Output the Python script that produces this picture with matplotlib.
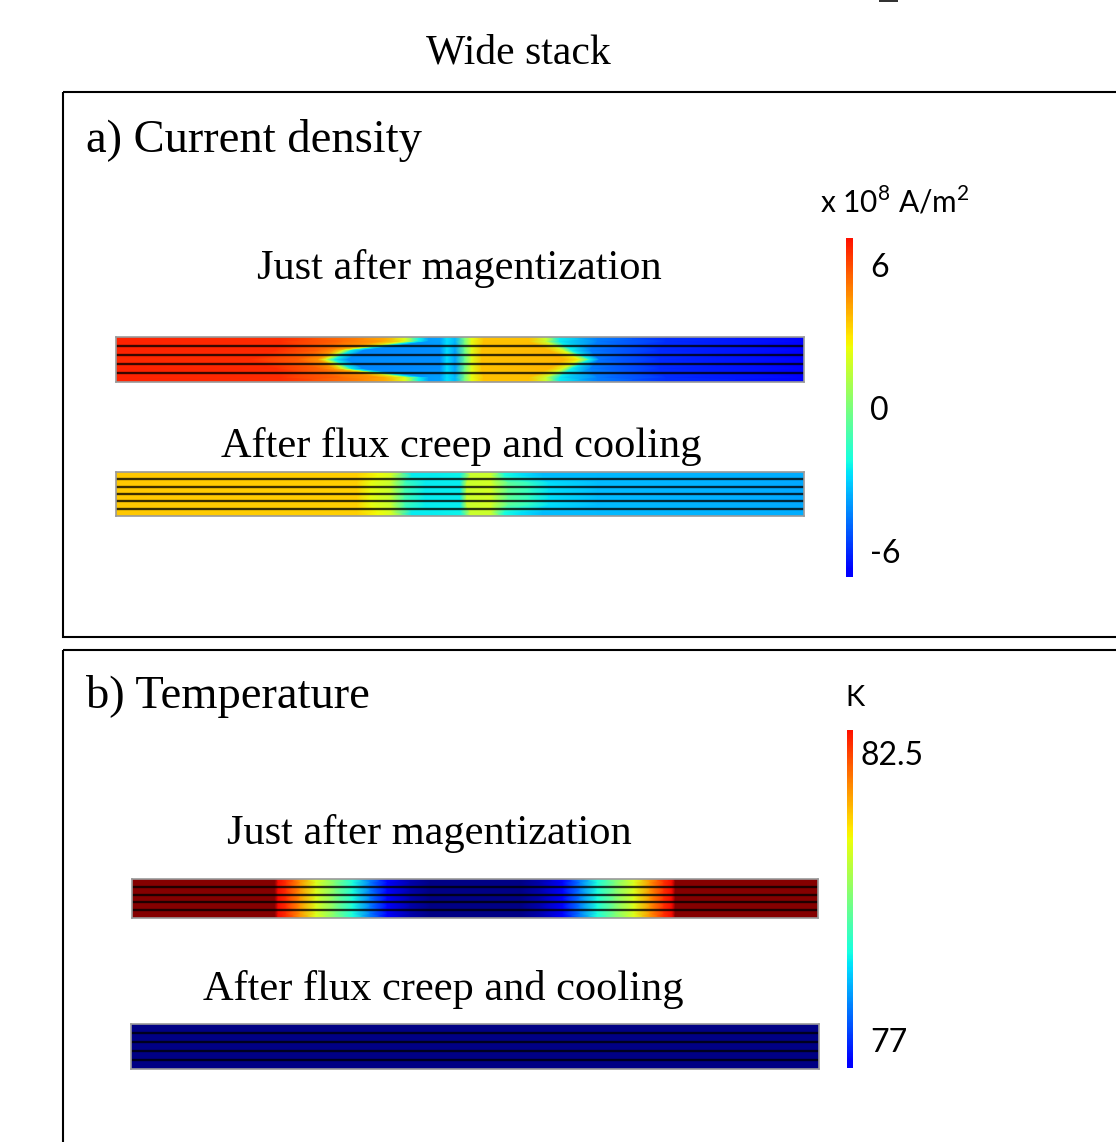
import numpy as np
import matplotlib
matplotlib.use("Agg")
import matplotlib.pyplot as plt
import matplotlib.transforms as mtransforms
from matplotlib.colors import Normalize
from matplotlib.patches import Rectangle

W, H = 1116, 1142
SERIF = "Liberation Serif"
SANS = "Lato"
CMAP = plt.get_cmap("jet")

plt.rcParams["mathtext.fontset"] = "custom"
plt.rcParams["mathtext.rm"] = SANS

# Current density (x 10^8 A/m^2) along each tape, 0 = left edge, 1 = right edge.
# Every profile of one strip has the same nodes in the same order
# (edge, red, ring, interior, centre line, ring, blue, edge) so the mesh lines up.
J_MAG_OUTER_X = [0, .24, .33, .39, .42, .44, .455, .471, .481, .493, .507, .517, .535, .60, .625, .645, .70, .80, 1]
J_MAG_OUTER = [6.8, 6.6, 5.4, 4.3, 2.2, -2.4, -4.0, -3.9, -2.8, -3.6, 0.0, 2.4, 3.8, 3.8, 1.8, -2.6, -4.6, -6.0, -6.9]
J_MAG_MID_X = [0, .233, .297, .317, .33, .342, .36, .471, .481, .493, .507, .517, .532, .63, .65, .663, .69, .79, 1]
J_MAG_MID = [6.8, 6.7, 5.5, 4.5, 2.1, -2.6, -4.4, -4.3, -2.8, -4.0, -0.3, 2.2, 3.8, 4.0, 2.2, -2.4, -4.6, -6.1, -6.9]
J_MAG_CEN_X = [0, .195, .267, .294, .305, .317, .337, .471, .481, .493, .507, .517, .532, .653, .674, .689, .703, .791, 1]
J_MAG_CEN = [6.7, 6.6, 5.6, 4.6, 2.1, -2.2, -4.3, -4.3, -2.8, -4.0, -0.5, 2.1, 3.8, 4.0, 2.6, -2.4, -4.8, -6.1, -6.9]

J_CREEP_OUTER_X = [0, .35, .38, .40, .43, .46, .50, .515, .545, .565, .59, .62, .70, 1]
J_CREEP_OUTER = [3.6, 3.5, 2.6, 2.0, -2.6, -2.6, -2.4, 1.8, 1.8, -2.2, -2.8, -3.4, -3.5, -3.7]
J_CREEP_IN_X = [0, .35, .37, .40, .42, .45, .50, .51, .545, .57, .60, .63, .70, 1]
J_CREEP_IN = [3.6, 3.5, 2.4, 1.6, -1.2, -2.6, -2.6, 1.8, 2.0, -0.6, -1.6, -2.8, -3.4, -3.8]

# Temperature (K) along the stack
T_MAG_X = [0, .208, .213, .2245, .245, .268, .296, .322, .347, .372, .405, .434,
           .566, .595, .628, .653, .678, .704, .732, .755, .7755, .787, .792, 1]
T_MAG = [83.8, 83.8, 83.0, 82.7, 81.8, 80.7, 79.7, 78.7, 77.6, 76.6, 75.9, 75.6,
         75.6, 75.9, 76.6, 77.6, 78.7, 79.7, 80.7, 81.8, 82.7, 83.0, 83.8, 83.8]
T_COOL_X = [0, 1]
T_COOL = [75.6, 75.6]

J_TICKS = [6, 0, -6]
T_TICKS = [82.5, 77]

J_NORM = Normalize(-9.1, 9.15)
J_BAR = (-7.1, 7.15)
T_NORM = Normalize(75.55, 83.85)
T_BAR = (76.46, 82.94)


def px_axes(fig, x0, y0, x1, y1, zorder=2):
    return fig.add_axes([x0 / W, 1 - y1 / H, (x1 - x0) / W, (y1 - y0) / H], zorder=zorder)


def draw_strip(fig, box, layers, norm):
    """One tape stack: a profile per tape, shaded on a quad mesh, tapes split by dark lines."""
    ax = px_axes(fig, *box)
    n = len(layers)
    rows = [layers[0]] + layers + [layers[-1]]
    heights = [0] + [i + 0.5 for i in range(n)] + [n]
    X = np.array([r[0] for r in rows], float)
    C = np.array([r[1] for r in rows], float)
    Y = np.repeat(np.array(heights, float)[:, None], X.shape[1], axis=1)
    ax.pcolormesh(X, Y, C, shading="gouraud", cmap=CMAP, norm=norm)
    for k in range(1, n):
        ax.axhline(k, color="black", lw=2.8, alpha=0.14)
        ax.axhline(k, color="black", lw=1.2, alpha=0.88)
    ax.set_xlim(0, 1)
    ax.set_ylim(n, 0)
    ax.set_xticks([])
    ax.set_yticks([])
    for s in ax.spines.values():
        s.set_color("#9a9a9a")
        s.set_linewidth(1.2)
    return ax


def draw_colorbar(fig, box, bar, norm, ticks, label_px):
    ax = px_axes(fig, *box)
    grad = np.linspace(bar[0], bar[1], 256)[:, None]
    ax.imshow(grad, extent=(0, 1, bar[0], bar[1]), origin="lower",
              aspect="auto", cmap=CMAP, norm=norm, interpolation="bilinear")
    ax.set_xlim(0, 1)
    ax.set_ylim(bar[0], bar[1])
    ax.axis("off")
    trans = mtransforms.blended_transform_factory(ax.transAxes, ax.transData)
    bw = box[2] - box[0]
    for t, lx in zip(ticks, label_px):
        ax.text((lx - box[0]) / bw, t, f"{t:g}", transform=trans,
                ha="left", va="center_baseline", fontsize=23, family=SANS, color="black")
    return ax


fig = plt.figure(figsize=(W / 100, H / 100), dpi=100)
fig.patch.set_facecolor("white")

canvas = fig.add_axes([0, 0, 1, 1], zorder=0)
canvas.set_xlim(0, W)
canvas.set_ylim(H, 0)
canvas.axis("off")

# panel frames
canvas.add_patch(Rectangle((63, 92), 1120, 545, fill=False, ec="black", lw=1.5))
canvas.add_patch(Rectangle((63, 650), 1120, 600, fill=False, ec="black", lw=1.5))
canvas.add_patch(Rectangle((879, -2), 19, 4, fc="#333333", ec="none"))

canvas.text(518, 63, "Wide stack", ha="center", va="baseline", fontsize=30, family=SERIF)
canvas.text(86, 152, "a) Current density", ha="left", va="baseline", fontsize=33.5, family=SERIF)
canvas.text(459, 279, "Just after magentization", ha="center", va="baseline", fontsize=30.5, family=SERIF)
canvas.text(461, 457, "After flux creep and cooling", ha="center", va="baseline", fontsize=30.5, family=SERIF)
canvas.text(86, 708, "b) Temperature", ha="left", va="baseline", fontsize=33.5, family=SERIF)
canvas.text(429, 844, "Just after magentization", ha="center", va="baseline", fontsize=30.5, family=SERIF)
canvas.text(443, 1000, "After flux creep and cooling", ha="center", va="baseline", fontsize=30.5, family=SERIF)

canvas.text(820, 213, r"x 10$^{8}$ A/m$^{2}$", ha="left", va="baseline", fontsize=21.5, family=SANS)
canvas.text(845, 706, "K", ha="left", va="baseline", fontsize=21, family=SANS)

j_mag = [(J_MAG_OUTER_X, J_MAG_OUTER), (J_MAG_MID_X, J_MAG_MID), (J_MAG_CEN_X, J_MAG_CEN),
         (J_MAG_MID_X, J_MAG_MID), (J_MAG_OUTER_X, J_MAG_OUTER)]
j_creep = [(J_CREEP_OUTER_X, J_CREEP_OUTER)] + [(J_CREEP_IN_X, J_CREEP_IN)] * 4 + [(J_CREEP_OUTER_X, J_CREEP_OUTER)]
t_mag = [(T_MAG_X, T_MAG)] * 5
t_cool = [(T_COOL_X, T_COOL)] * 5

draw_strip(fig, (116, 337, 804, 382), j_mag, J_NORM)
draw_strip(fig, (116, 472, 804, 516), j_creep, J_NORM)
draw_strip(fig, (132, 879, 818, 918), t_mag, T_NORM)
draw_strip(fig, (131, 1024, 819, 1069), t_cool, T_NORM)

draw_colorbar(fig, (846, 238, 853, 577), J_BAR, J_NORM, J_TICKS, [870, 870, 870])
draw_colorbar(fig, (847, 730, 853, 1068), T_BAR, T_NORM, T_TICKS, [860, 870])

fig.savefig("out.png", dpi=100, facecolor="white")
